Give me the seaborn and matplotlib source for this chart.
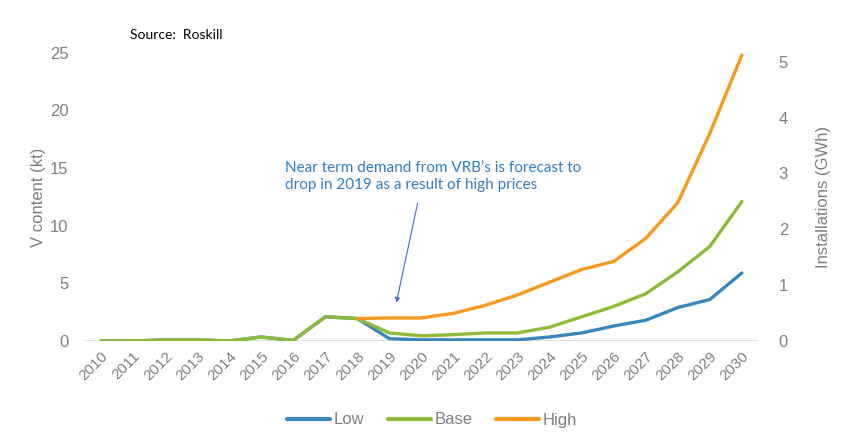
import numpy as np
import pandas as pd
import matplotlib
matplotlib.use('Agg')
import matplotlib.pyplot as plt
import seaborn as sns
from matplotlib.lines import Line2D

# data (V content, kt)
years = list(range(2010, 2031))
low = [0.0, 0.0, 0.1, 0.1, 0.0, 0.35, 0.05, 2.1, 1.95, 0.2, 0.1, 0.1, 0.1, 0.1,
       0.35, 0.7, 1.3, 1.8, 2.9, 3.6, 5.9]
base = [0.0, 0.0, 0.1, 0.1, 0.0, 0.35, 0.05, 2.1, 1.95, 0.7, 0.45, 0.55, 0.7, 0.7,
        1.2, 2.1, 3.0, 4.1, 6.0, 8.2, 12.1]
high = [None] * 8 + [1.95, 2.0, 2.0, 2.4, 3.1, 4.0, 5.1, 6.2, 6.9, 8.9, 12.0, 18.0, 24.8]
scenarios = ['Low', 'Base', 'High']
colors = {'Low': '#3b86ba', 'Base': '#8cbb3a', 'High': '#f59a1f'}
right_ticks = [0, 1, 2, 3, 4, 5]

df = pd.DataFrame({'year': years, 'Low': low, 'Base': base, 'High': high})
long_df = df.melt(id_vars='year', var_name='scenario', value_name='kt').dropna()

sns.set_style('white')
plt.rcParams['font.family'] = ['Liberation Sans', 'DejaVu Sans']
grey = '#7f7f7f'

fig = plt.figure(figsize=(8.55, 4.42), dpi=100)
ax = fig.add_axes([0.0994, 0.2285, 0.787, 0.652])

sns.lineplot(data=long_df, x='year', y='kt', hue='scenario', hue_order=scenarios,
             palette=colors, linewidth=2.4, ax=ax, legend=False)
for ln in ax.lines:
    ln.set_solid_capstyle('round')

ax.set_xlim(2009.5, 2030.5)
ax.set_ylim(0, 25)
ax.set_yticks([0, 5, 10, 15, 20, 25])
ax.set_xticks(years)
ax.set_xticklabels([str(y) for y in years], rotation=45, ha='right',
                   rotation_mode='anchor', fontsize=11, color=grey)
ax.tick_params(axis='x', pad=6, length=0)
ax.tick_params(axis='y', labelsize=12, colors=grey, length=0, pad=12)
ax.set_xlabel('')
ax.set_ylabel('V content (kt)', fontsize=12, color=grey, labelpad=3)
ax.axhline(0, color='#d9d9d9', linewidth=1.2, zorder=0)
for s in ax.spines.values():
    s.set_visible(False)

# secondary axis (installations, GWh)
ax2 = ax.twinx()
ax2.set_ylim(0, 5.16)
ax2.set_yticks(right_ticks)
ax2.tick_params(axis='y', labelsize=12, colors=grey, length=0, pad=15)
ax2.set_ylabel('Installations (GWh)', fontsize=12, color=grey, labelpad=20)
for s in ax2.spines.values():
    s.set_visible(False)
ax2.grid(False)

# annotation
ax.text(2015.75, 15.6, "Near term demand from VRB\u2019s is forecast to\ndrop in 2019 as a result of high prices",
        fontsize=11, color='#2e7fc4', va='top', ha='left', linespacing=1.3,
        family=['Lato', 'DejaVu Sans'])
ax.annotate('', xy=(2019.2, 3.1), xytext=(2019.9, 12.2),
            arrowprops=dict(arrowstyle='-|>', color='#4468c4', lw=0.8, mutation_scale=7))

fig.text(130 / 855, 1 - 35 / 442, 'Source:  Roskill', fontsize=10, color='black', va='center',
         family=['Lato', 'DejaVu Sans'])

# legend
handles = [Line2D([0], [0], color=colors[s], lw=3) for s in scenarios]
fig.legend(handles, scenarios, loc='center', bbox_to_anchor=(0.505, 1 - 420 / 442), ncol=3,
           frameon=False, fontsize=12, handlelength=2.6, handletextpad=0.2, columnspacing=1.4,
           labelcolor=grey)

fig.savefig('out.png', dpi=100)
